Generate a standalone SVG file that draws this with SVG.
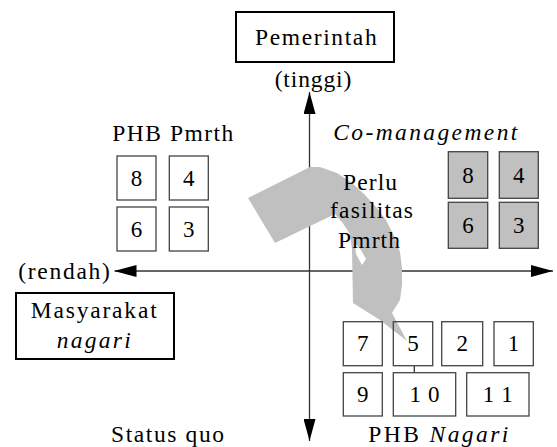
<svg xmlns="http://www.w3.org/2000/svg" width="557" height="447" viewBox="0 0 557 447">
<defs>
<marker id="ah" markerUnits="userSpaceOnUse" markerWidth="22" markerHeight="12" viewBox="0 0 22 12" refX="22" refY="6" orient="auto-start-reverse">
<path d="M0,0 L22,6 L0,12 Z" fill="#000"/>
</marker>
<style>
text{font-family:"Liberation Serif","Times New Roman",serif;font-size:23.5px;fill:#000;text-anchor:middle}
.it{font-style:italic}
.axis{stroke:#333;stroke-width:1.3;fill:none}
.box{fill:none;stroke:#444;stroke-width:1.3}
.gbox{fill:#c0c0c0;stroke:#444;stroke-width:1.3}
.main{fill:#fff;stroke:#000;stroke-width:2}
.num{font-size:23px}
</style>
</defs>
<rect width="557" height="447" fill="#fff"/>
<g id="connectors">
<line class="axis" x1="309.5" y1="441" x2="309.5" y2="92" marker-start="url(#ah)" marker-end="url(#ah)"/>
<line class="axis" x1="114.5" y1="271" x2="553" y2="271" marker-start="url(#ah)" marker-end="url(#ah)"/>
<line class="axis" x1="414.3" y1="365.7" x2="414.3" y2="372.7"/>
</g>
<g id="flow-arrow">
<path fill="#c0c0c0" fill-rule="evenodd" d="M248,198 L310,167 L320,167 L337,173 L352,183 L365,195 L376,207 L386,220 L394,236 L400,252 L402,268 L402,285 L400,300 L392,313 L407,341 L380,320 L353,303 L352,250 L350,234 L342,222 L335,214 L275,243 Z M355,243 L361,250 L366,259 L362,265 L356,254 Z"/>
</g>
<g id="pemerintah">
<rect class="main" x="236" y="12" width="158" height="50"/>
<text x="315.8" y="45" textLength="121.7" lengthAdjust="spacing">Pemerintah</text>
</g>
<g id="masyarakat">
<rect class="main" x="16" y="293" width="158" height="66"/>
<text x="93.7" y="317.5" textLength="126" lengthAdjust="spacing">Masyarakat</text>
<text class="it" x="93.7" y="348" textLength="74" lengthAdjust="spacing">nagari</text>
</g>
<g id="label-tinggi"><text x="313" y="87" textLength="76.7" lengthAdjust="spacing">(tinggi)</text></g>
<g id="label-rendah"><text x="64" y="279" textLength="91.7" lengthAdjust="spacing">(rendah)</text></g>
<g id="label-statusquo"><text x="167.5" y="442" textLength="113" lengthAdjust="spacing">Status quo</text></g>
<g id="group-phb-pmrth">
<text x="172.8" y="140.7" textLength="121" lengthAdjust="spacing">PHB Pmrth</text>
<g id="b-l8"><rect class="box" x="117" y="156" width="39" height="44"/><text class="num" x="136.5" y="185.7">8</text></g>
<g id="b-l4"><rect class="box" x="169.3" y="156" width="39" height="44"/><text class="num" x="188.8" y="185.7">4</text></g>
<g id="b-l6"><rect class="box" x="117" y="207" width="39" height="44"/><text class="num" x="136.5" y="236.7">6</text></g>
<g id="b-l3"><rect class="box" x="169.3" y="207" width="39" height="44"/><text class="num" x="188.8" y="236.7">3</text></g>
</g>
<g id="group-comanagement">
<text class="it" x="425.3" y="140" textLength="184" lengthAdjust="spacing">Co-management</text>
<g id="b-r8"><rect class="gbox" x="448.3" y="151.7" width="39.4" height="46.6"/><text class="num" x="468" y="182.7">8</text></g>
<g id="b-r4"><rect class="gbox" x="499.3" y="151.7" width="39" height="46.6"/><text class="num" x="518.8" y="182.7">4</text></g>
<g id="b-r6"><rect class="gbox" x="448.3" y="202.3" width="39.4" height="46"/><text class="num" x="468" y="233">6</text></g>
<g id="b-r3"><rect class="gbox" x="499.3" y="202.3" width="39" height="46"/><text class="num" x="518.8" y="233">3</text></g>
</g>
<g id="label-perlu">
<text x="370" y="190" textLength="54" lengthAdjust="spacing">Perlu</text>
<text x="371.5" y="218.3" textLength="83" lengthAdjust="spacing">fasilitas</text>
<text x="369" y="248.3" textLength="62" lengthAdjust="spacing">Pmrth</text>
</g>
<g id="group-phb-nagari">
<text x="438.3" y="442" textLength="140" lengthAdjust="spacing">PHB <tspan class="it">Nagari</tspan></text>
<g id="b-7"><rect class="box" x="343.3" y="321.7" width="39" height="44"/><text class="num" x="362.8" y="351.4">7</text></g>
<g id="b-5"><rect class="box" x="393.3" y="321.7" width="39.4" height="44"/><text class="num" x="413" y="351.4">5</text></g>
<g id="b-2"><rect class="box" x="441.7" y="321.7" width="41" height="44"/><text class="num" x="462.2" y="351.4">2</text></g>
<g id="b-1"><rect class="box" x="494" y="321.7" width="39.3" height="44"/><text class="num" x="513.6" y="351.4">1</text></g>
<g id="b-9"><rect class="box" x="343.3" y="372.7" width="39" height="43.3"/><text class="num" x="362.8" y="402">9</text></g>
<g id="b-10"><rect class="box" x="393.3" y="372.7" width="62.4" height="43.3"/><text class="num" x="424.5" y="402" textLength="30" lengthAdjust="spacing">10</text></g>
<g id="b-11"><rect class="box" x="466.7" y="372.7" width="62.3" height="43.3"/><text class="num" x="497.8" y="402" textLength="30" lengthAdjust="spacing">11</text></g>
</g>
</svg>
